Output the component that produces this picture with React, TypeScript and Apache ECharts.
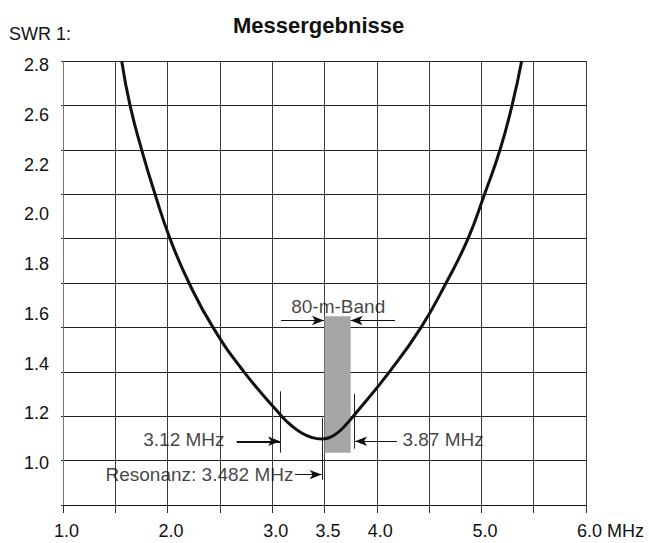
import React, { useEffect, useRef } from 'react';
import * as echarts from 'echarts';

const FONT = '"Liberation Sans", Arial, Helvetica, sans-serif';

// Measured SWR curve (frequency in MHz, SWR)
const freqMHz = [1.561, 1.641, 1.752, 1.88, 2.023, 2.205, 2.434, 2.73, 3.091, 3.186, 3.282, 3.378, 3.473, 3.549, 3.624, 3.7, 3.775, 4.121, 4.423, 4.662, 4.872, 5.03, 5.178, 5.293, 5.385];
const swr = [2.8, 2.6, 2.4, 2.2, 2.0, 1.8, 1.6, 1.4, 1.2, 1.157, 1.124, 1.104, 1.097, 1.104, 1.125, 1.159, 1.2, 1.4, 1.6, 1.8, 2.0, 2.2, 2.4, 2.6, 2.8];

// Axis tick labels as printed
const xTickValues = [1, 2, 3, 3.5, 4, 5, 6];
const xTickLabels = ['1.0', '2.0', '3.0', '3.5', '4.0', '5.0', '6.0 MHz'];
const yTickLabels = ['1.0', '1.2', '1.4', '1.6', '1.8', '2.0', '2.2', '2.6', '2.8'];

// 80 m band rectangle
const bandMHz = [3.5, 3.75];
const bandSwr = [1.035, 1.65];

// Vertical marker lines: frequency, swr from, swr to
const markerFreq = [3.077, 3.785, 3.482];
const markerSwrFrom = [1.036, 1.054, 0.914];
const markerSwrTo = [1.312, 1.301, 1.193];

// Arrows: from / to (MHz, SWR)
const arrowFrom = [[3.084, 1.631], [4.174, 1.631], [2.661, 1.087], [4.193, 1.087], [3.218, 0.937]];
const arrowTo = [[3.495, 1.631], [3.75, 1.631], [3.075, 1.087], [3.792, 1.087], [3.473, 0.937]];
const arrowWidth = [1, 1, 2, 1, 1];

// Annotation texts
const annotationTexts = ['80-m-Band', '3.12 MHz', '3.87 MHz', 'Resonanz: 3.482 MHz'];
const annotationPos = [[3.636, 1.691], [2.549, 1.094], [4.25, 1.094], [3.208, 0.937]];
const annotationAlign = ['center', 'right', 'left', 'right'];

export default function App() {
  const ref = useRef<HTMLDivElement>(null);

  useEffect(() => {
    document.body.style.margin = '0';
    if (!ref.current) return;
    const chart = echarts.init(ref.current, undefined, { renderer: 'svg' });

    const xFormatter = (v: number) => {
      const i = xTickValues.findIndex((t) => Math.abs(t - v) < 1e-6);
      if (i < 0) return '';
      return i === xTickValues.length - 1 ? `{u|${xTickLabels[i]}}` : `{n|${xTickLabels[i]}}`;
    };

    const option: any = {
      animation: false,
      backgroundColor: '#ffffff',
      title: [
        {
          text: 'Messergebnisse',
          left: 233,
          top: 14,
          padding: 0,
          textStyle: { fontSize: 22, fontWeight: 'bold', fontFamily: FONT, color: '#111' },
        },
        {
          text: 'SWR 1:',
          left: 9,
          top: 25,
          padding: 0,
          textStyle: { fontSize: 18, fontWeight: 'normal', fontFamily: FONT, color: '#111' },
        },
      ],
      grid: [
        { left: 63, top: 61, width: 523, height: 444, containLabel: false },
        { left: 63, top: 65, width: 523, height: 398, containLabel: false },
      ],
      xAxis: [
        {
          type: 'value',
          gridIndex: 0,
          min: 1,
          max: 6,
          interval: 0.5,
          axisLine: { show: true, lineStyle: { color: '#111', width: 1 } },
          axisTick: { show: true, length: 8, inside: false, lineStyle: { color: '#333', width: 1 } },
          splitLine: { show: true, lineStyle: { color: '#3a3a3a', width: 1 } },
          axisLabel: {
            show: true,
            margin: 17,
            formatter: xFormatter,
            rich: {
              n: { fontSize: 18, fontFamily: FONT, color: '#111', padding: [0, 0, 0, 7] },
              u: { fontSize: 18, fontFamily: FONT, color: '#111', padding: [0, 0, 0, 49] },
            },
          },
        },
        { type: 'value', gridIndex: 1, min: 0, max: 1, show: false },
      ],
      yAxis: [
        {
          type: 'value',
          gridIndex: 0,
          min: 0.8,
          max: 2.8,
          interval: 0.2,
          axisLine: { show: true, lineStyle: { color: '#777', width: 1 } },
          axisTick: { show: true, length: 2, lineStyle: { color: '#333' } },
          splitLine: { show: true, lineStyle: { color: '#222', width: 1 } },
          axisLabel: { show: false },
        },
        {
          type: 'value',
          gridIndex: 1,
          min: 0,
          max: 8,
          interval: 1,
          axisLine: { show: false },
          axisTick: { show: false },
          splitLine: { show: false },
          axisLabel: {
            show: true,
            margin: 14,
            fontSize: 18,
            fontFamily: FONT,
            color: '#111',
            formatter: (v: number) => yTickLabels[Math.round(v)] ?? '',
          },
        },
      ],
      series: [
        {
          type: 'scatter',
          name: 'annotations',
          xAxisIndex: 0,
          yAxisIndex: 0,
          z: 2,
          symbolSize: 1,
          itemStyle: { color: 'rgba(0,0,0,0)' },
          silent: true,
          label: {
            show: true,
            formatter: '{b}',
            position: [0, 0],
            verticalAlign: 'middle',
            fontSize: 19,
            fontFamily: FONT,
            color: '#111',
          },
          data: annotationTexts.map((t, i) => ({
            name: t,
            value: annotationPos[i],
            label: { align: annotationAlign[i] },
          })),
          markArea: {
            silent: true,
            itemStyle: { color: '#a6a6a6', opacity: 1, borderWidth: 0 },
            label: { show: false },
            data: [[{ coord: [bandMHz[0], bandSwr[0]] }, { coord: [bandMHz[1], bandSwr[1]] }]],
          },
          markLine: {
            silent: true,
            symbol: ['none', 'none'],
            label: { show: false },
            lineStyle: { color: '#222', width: 1, type: 'solid' },
            data: markerFreq.map((f, i) => [
              { coord: [f, markerSwrFrom[i]] },
              { coord: [f, markerSwrTo[i]] },
            ]),
          },
        },
        {
          type: 'line',
          name: 'arrows',
          xAxisIndex: 0,
          yAxisIndex: 0,
          z: 4,
          data: [],
          markLine: {
            silent: true,
            symbol: ['none', 'arrow'],
            symbolSize: [7, 12],
            label: { show: false },
            lineStyle: { color: '#111', width: 1, type: 'solid' },
            data: arrowFrom.map((p, i) => [
              { coord: p, lineStyle: { width: arrowWidth[i], color: '#111', type: 'solid' } },
              { coord: arrowTo[i] },
            ]),
          },
        },
        {
          type: 'line',
          name: 'SWR',
          xAxisIndex: 0,
          yAxisIndex: 0,
          z: 5,
          smooth: 0.5,
          showSymbol: false,
          symbol: 'none',
          lineStyle: { color: '#111', width: 3 },
          data: freqMHz.map((f, i) => [f, swr[i]]),
        },
      ],
    };

    chart.setOption(option);
    return () => chart.dispose();
  }, []);

  return <div ref={ref} style={{ width: 649, height: 543 }} />;
}
